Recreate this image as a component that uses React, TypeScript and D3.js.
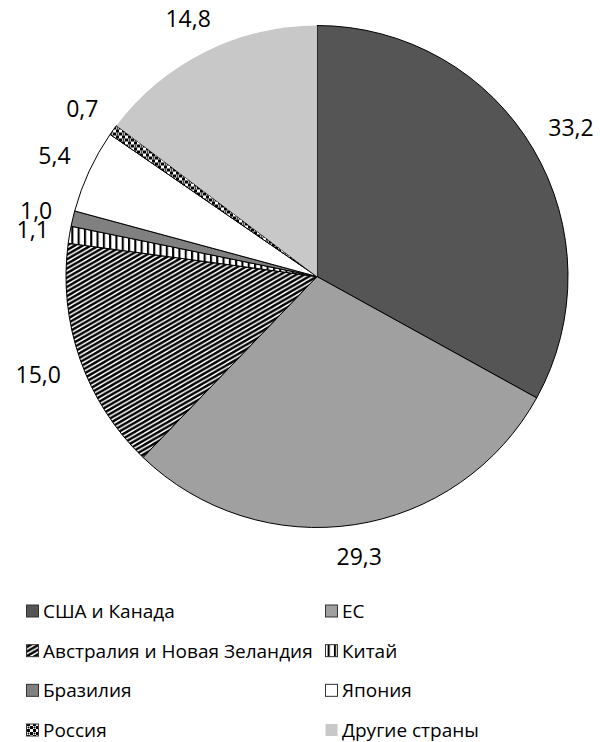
import React from "react";
import * as d3 from "d3";

const categories = [
  "США и Канада",
  "ЕС",
  "Австралия и Новая Зеландия",
  "Китай",
  "Бразилия",
  "Япония",
  "Россия",
  "Другие страны",
];
const values = [33.2, 29.3, 15.0, 1.1, 1.0, 5.4, 0.7, 14.8];
const labels = ["33,2", "29,3", "15,0", "1,1", "1,0", "5,4", "0,7", "14,8"];
const fills = [
  "#555555",
  "#a0a0a0",
  "url(#pAus)",
  "url(#pChina)",
  "#808080",
  "#ffffff",
  "url(#pRus)",
  "#c8c8c8",
];
const strokes = ["#000", "#000", "#000", "#000", "#000", "#000", "#000", "none"];

const W = 600;
const H = 742;
const cx = 317;
const cy = 276.5;
const R = 251;
const labelFont = 23;
const legendFont = 19;
const FONT = "'Open Sans', sans-serif";

export default function App() {
  const pie = d3
    .pie<number>()
    .sort(null)
    .value((d) => d)
    .startAngle(0)
    .endAngle(2 * Math.PI);
  const arcs = pie(values);
  const arc = d3.arc<d3.PieArcDatum<number>>().innerRadius(0).outerRadius(R);

  const estWidth = (s: string) => {
    let w = 0;
    for (const ch of s) w += ch === "," ? 0.26 : 0.572;
    return w * labelFont;
  };

  const legendRows = d3.scalePoint<number>().domain([0, 1, 2, 3]).range([611, 730]);
  const legendCols = [26, 325];

  return (
    <svg
      width={W}
      height={H}
      style={{ position: "absolute", left: 0, top: 0, background: "#fff" }}
      fontFamily={FONT}
    >
      <defs>
        <pattern id="pAus" patternUnits="userSpaceOnUse" width={8} height={4.6}>
          <rect width={8} height={4.6} fill="#fff" />
          <path
            d="M-2,5.75 L10,-1.15 M-10,5.75 L2,-1.15 M6,5.75 L18,-1.15"
            stroke="#000"
            strokeWidth={2.5}
          />
        </pattern>
        <pattern id="pChina" patternUnits="userSpaceOnUse" width={6.3} height={6}>
          <rect width={6.3} height={6} fill="#fff" />
          <rect x={0} width={2.1} height={6} fill="#000" />
        </pattern>
        <pattern id="pRus" patternUnits="userSpaceOnUse" width={6} height={6}>
          <rect width={6} height={6} fill="#fff" />
          <rect x={0} y={0} width={3} height={3} fill="#000" />
          <rect x={3} y={3} width={3} height={3} fill="#000" />
          <circle cx={4.5} cy={1.5} r={1} fill="#000" />
        </pattern>
      </defs>

      <g transform={`translate(${cx},${cy})`}>
        {arcs.map((a, i) => (
          <path
            key={i}
            d={arc(a) || ""}
            fill={fills[i]}
            stroke={strokes[i]}
            strokeWidth={strokes[i] === "none" ? 0 : 1}
          />
        ))}
        {arcs.map((a, i) => {
          const mid = (a.startAngle + a.endAngle) / 2;
          const s = Math.sin(mid);
          const c = Math.cos(mid);
          const w = estWidth(labels[i]);
          const h = 17;
          const dist = R + 20 + (w / 2) * Math.abs(s) + (h / 2) * Math.abs(c);
          return (
            <text
              key={"l" + i}
              x={dist * s}
              y={-dist * c}
              textAnchor="middle"
              dominantBaseline="central"
              fontSize={labelFont}
              fill="#000"
            >
              {labels[i]}
            </text>
          );
        })}
      </g>

      <g>
        {categories.map((cat, i) => {
          const row = Math.floor(i / 2);
          const col = i % 2;
          const x = legendCols[col];
          const y = legendRows(row) as number;
          return (
            <g key={"lg" + i}>
              <rect
                x={x + 0.5}
                y={y - 6}
                width={12}
                height={12}
                fill={fills[i]}
                stroke={strokes[i] === "none" ? "none" : "#333"}
                strokeWidth={1}
              />
              <text
                x={x + 17}
                y={y}
                dominantBaseline="central"
                fontSize={legendFont}
                fill="#000"
              >
                {cat}
              </text>
            </g>
          );
        })}
      </g>
    </svg>
  );
}
